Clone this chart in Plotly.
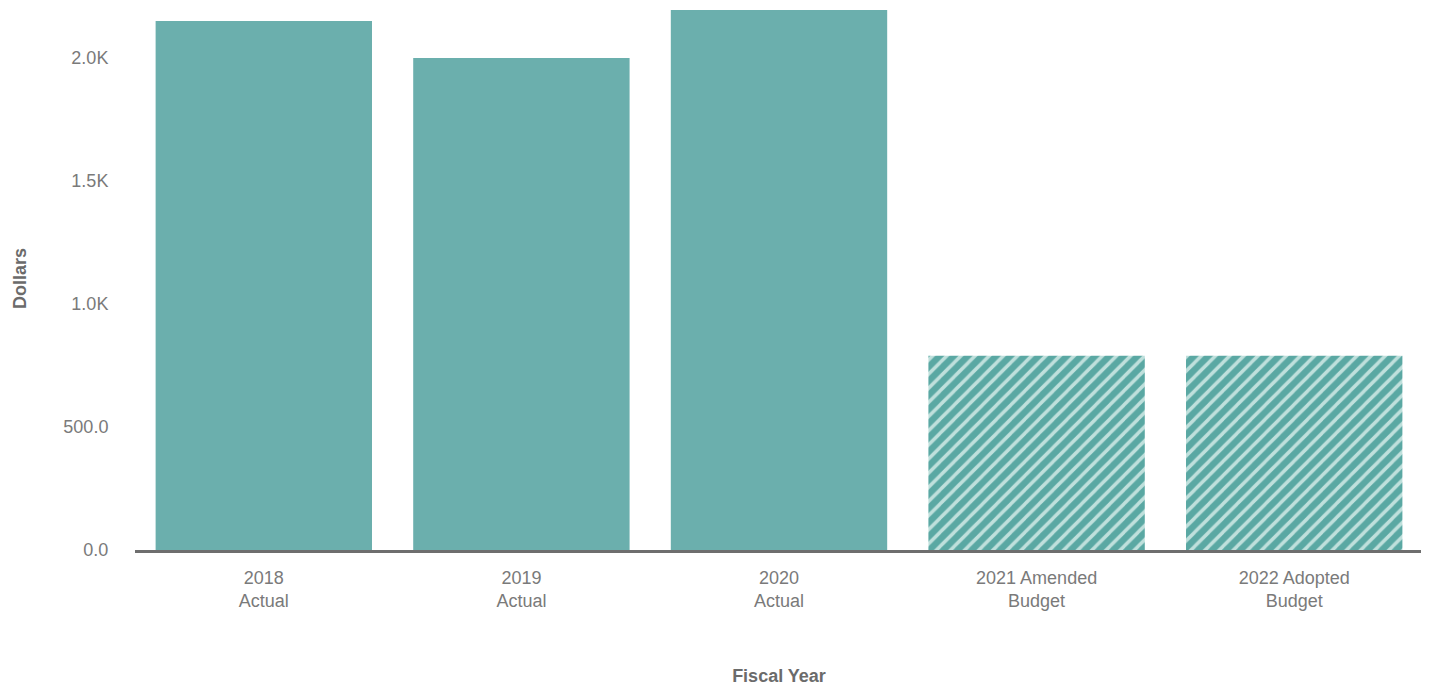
import plotly.graph_objects as go

categories = ["2018<br>Actual", "2019<br>Actual", "2020<br>Actual",
              "2021 Amended<br>Budget", "2022 Adopted<br>Budget"]
values = [2150, 2000, 2195, 790, 790]
hatched = [False, False, False, True, True]

y_tickvals = [0, 500, 1000, 1500, 2000]
y_ticktext = ["0.0", "500.0", "1.0K", "1.5K", "2.0K"]

teal = "#6BAFAD"
teal_dark = "#5AA8A3"
stripe = "#BFE0DC"

solid_x = [c for c, h in zip(categories, hatched) if not h]
solid_y = [v for v, h in zip(values, hatched) if not h]
hatch_x = [c for c, h in zip(categories, hatched) if h]
hatch_y = [v for v, h in zip(values, hatched) if h]

fig = go.Figure()
fig.add_trace(go.Bar(
    x=solid_x, y=solid_y,
    marker=dict(color=teal, line=dict(width=0)),
    hoverinfo="x+y",
))
fig.add_trace(go.Bar(
    x=hatch_x, y=hatch_y,
    marker=dict(
        color=teal_dark,
        line=dict(width=0),
        pattern=dict(
            shape="/",
            fillmode="replace",
            fgcolor=stripe,
            bgcolor=teal_dark,
            fgopacity=1,
            size=10,
            solidity=0.35,
        ),
    ),
    hoverinfo="x+y",
))

font_family = "Liberation Sans, Arial, sans-serif"
grey = "#7A7A7A"

fig.update_layout(
    width=1429, height=687,
    margin=dict(l=127, r=14, t=0, b=145),
    paper_bgcolor="white", plot_bgcolor="white",
    barmode="overlay",
    bargap=0.16,
    showlegend=False,
    font=dict(family=font_family, color=grey, size=18),
    xaxis=dict(
        categoryorder="array", categoryarray=categories,
        showgrid=False, showline=True, linecolor="#6E6E6E", linewidth=3,
        tickfont=dict(size=18, color=grey),
        ticks="outside", ticklen=9, tickcolor="rgba(0,0,0,0)",
        title=dict(text="<b>Fiscal Year</b>", font=dict(size=18, color="#6B6B6B"), standoff=60),
    ),
    yaxis=dict(
        range=[0, 2203],
        showgrid=False, zeroline=False, showline=False,
        tickvals=y_tickvals, ticktext=y_ticktext,
        tickfont=dict(size=18, color=grey),
        ticks="outside", ticklen=22, tickcolor="rgba(0,0,0,0)",
    ),
    annotations=[dict(
        text="<b>Dollars</b>", textangle=-90,
        xref="paper", yref="paper", x=0, y=0.5,
        xanchor="center", yanchor="middle",
        xshift=-115, showarrow=False,
        font=dict(size=18, color="#6B6B6B"),
    )],
)

fig.write_html("out.html")
